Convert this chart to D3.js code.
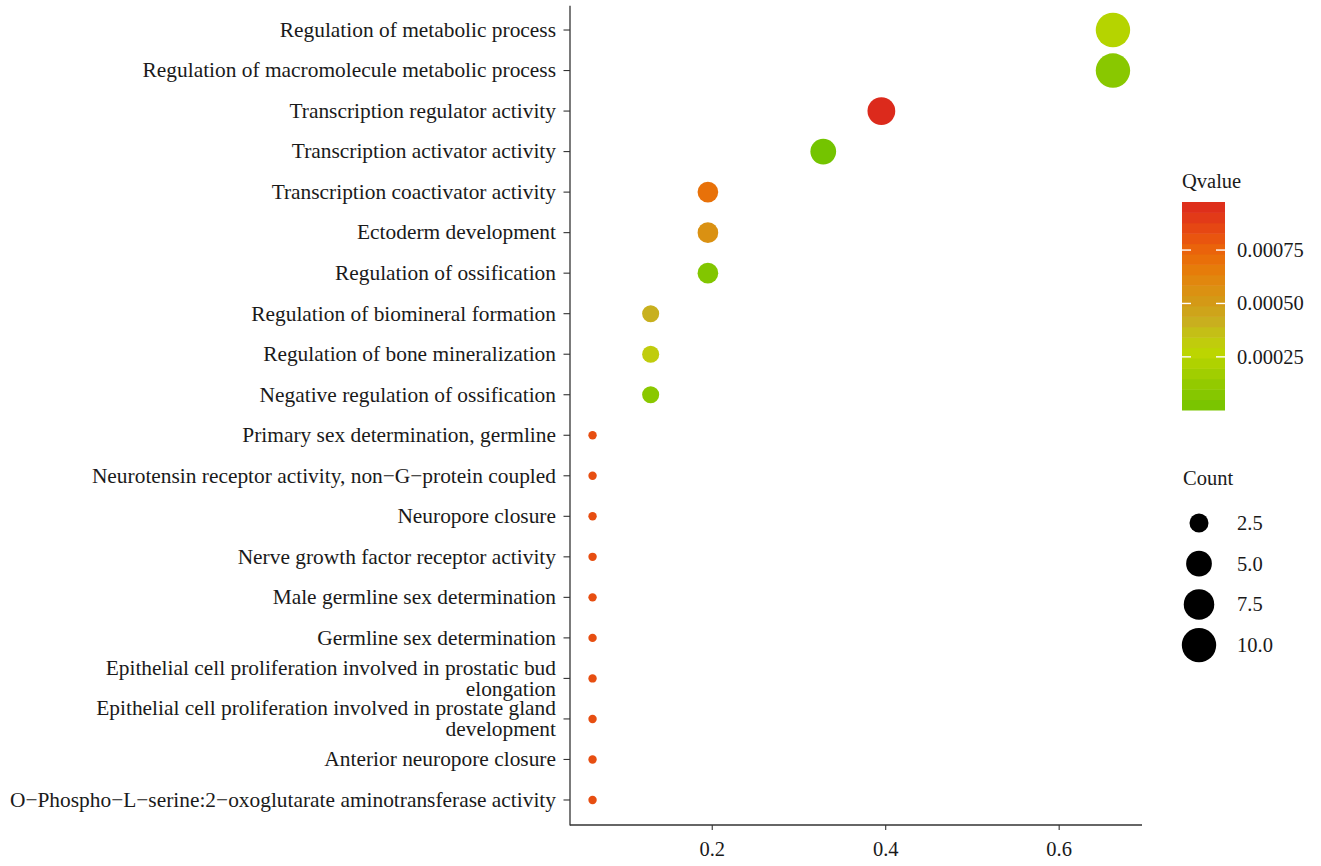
<!DOCTYPE html>
<html>
<head>
<meta charset="utf-8">
<script src="https://cdn.jsdelivr.net/npm/d3@7"></script>
<style>
  html, body { margin: 0; padding: 0; background: #fff; }
  svg { display: block; }
  text { font-family: "Liberation Serif", "Times New Roman", serif; fill: #1a1a1a; }
</style>
</head>
<body>
<svg id="chart" width="1321" height="866"></svg>
<script>
// Enriched terms, top to bottom
const terms = [
  "Regulation of metabolic process",
  "Regulation of macromolecule metabolic process",
  "Transcription regulator activity",
  "Transcription activator activity",
  "Transcription coactivator activity",
  "Ectoderm development",
  "Regulation of ossification",
  "Regulation of biomineral formation",
  "Regulation of bone mineralization",
  "Negative regulation of ossification",
  "Primary sex determination, germline",
  "Neurotensin receptor activity, non\u2212G\u2212protein coupled",
  "Neuropore closure",
  "Nerve growth factor receptor activity",
  "Male germline sex determination",
  "Germline sex determination",
  "Epithelial cell proliferation involved in prostatic bud elongation",
  "Epithelial cell proliferation involved in prostate gland development",
  "Anterior neuropore closure",
  "O\u2212Phospho\u2212L\u2212serine:2\u2212oxoglutarate aminotransferase activity"
];
const geneRatio = [0.662, 0.662, 0.395, 0.328, 0.195, 0.195, 0.195, 0.129, 0.129, 0.129,
                   0.062, 0.062, 0.062, 0.062, 0.062, 0.062, 0.062, 0.062, 0.062, 0.062];
const counts = [10, 10, 6, 5, 3, 3, 3, 2, 2, 2, 1, 1, 1, 1, 1, 1, 1, 1, 1, 1];
const qvalues = [0.00024, 0.000088, 0.000975, 0.0000012, 0.0007, 0.00056, 0.00006, 0.00041, 0.00032, 0.00009,
                 0.00083, 0.00083, 0.00083, 0.00083, 0.00083, 0.00083, 0.00083, 0.00083, 0.00083, 0.00083];

const xTicks = [0.2, 0.4, 0.6];
const qTicks = [0.00025, 0.0005, 0.00075];
const countTicks = [2.5, 5, 7.5, 10];

// Qvalue palette, low (green) to high (red)
const paletteStops = [0, 0.1, 0.2, 0.27, 0.35, 0.42, 0.5, 0.6, 0.7, 0.8, 0.9, 1];
const paletteColors = ["#74c400", "#8cc800", "#a8d000", "#bcd600", "#c2c812", "#c8b01e",
                       "#d09e18", "#de8c10", "#e87608", "#ea5c0c", "#e44016", "#dc2a1c"];

const data = terms.map((t, i) => ({ term: t, ratio: geneRatio[i], count: counts[i], q: qvalues[i] }));

const svg = d3.select("#chart");
svg.append("rect").attr("width", 1321).attr("height", 866).attr("fill", "#fff");

const plot = { left: 570, right: 1142, top: 5.7, bottom: 824.3 };

const x = d3.scaleLinear().domain([0.036, 0.6955]).range([plot.left, plot.right]);
const y = d3.scalePoint().domain(terms).range([plot.top, plot.bottom]).padding(0.6);

const qMin = d3.min(qvalues), qMax = d3.max(qvalues);
const color = d3.scaleLinear()
  .domain(paletteStops.map(t => qMin + t * (qMax - qMin)))
  .range(paletteColors)
  .interpolate(d3.interpolateRgb);

const cMin = d3.min(counts), cMax = d3.max(counts);
const radiusOf = d3.scaleSqrt().domain([0, 1]).range([4.2, 17.2]);
const r = c => radiusOf((c - cMin) / (cMax - cMin));

const axisColor = "#333";
const fontSize = 20.5;
const yLabelSize = 21.4;

// Axes
const xAxisG = svg.append("g").attr("transform", `translate(0,${plot.bottom + 0.7})`);
xAxisG.append("line").attr("x1", plot.left).attr("x2", plot.right)
  .attr("stroke", axisColor).attr("stroke-width", 1.3);
xAxisG.selectAll(".xt").data(xTicks).join("g").attr("class", "xt")
  .attr("transform", d => `translate(${x(d)},0)`)
  .call(g => g.append("line").attr("y2", 5).attr("stroke", axisColor).attr("stroke-width", 1.1))
  .call(g => g.append("text").attr("y", 31).attr("text-anchor", "middle")
    .attr("font-size", fontSize).text(d => d3.format(".1f")(d)));

const yAxisG = svg.append("g").attr("transform", `translate(${plot.left},0)`);
yAxisG.append("line").attr("y1", plot.top).attr("y2", plot.bottom + 1.3)
  .attr("stroke", axisColor).attr("stroke-width", 1.3);

// Wrap long labels on word boundaries
function wrapLabel(s, width) {
  const words = s.split(" ");
  const lines = [];
  let cur = "";
  words.forEach(w => {
    const next = cur ? cur + " " + w : w;
    if (next.length > width && cur) { lines.push(cur); cur = w; }
    else cur = next;
  });
  if (cur) lines.push(cur);
  return lines;
}

const yt = yAxisG.selectAll(".yt").data(terms).join("g").attr("class", "yt")
  .attr("transform", d => `translate(0,${y(d)})`);
yt.append("line").attr("x1", -6.5).attr("x2", 0).attr("stroke", axisColor).attr("stroke-width", 1.1);
yt.each(function(d) {
  const lines = wrapLabel(d, 60);
  const lh = 21;
  const t = d3.select(this).append("text").attr("text-anchor", "end")
    .attr("font-size", yLabelSize).attr("x", -14);
  lines.forEach((ln, i) => {
    t.append("tspan").attr("x", -14)
      .attr("y", (i - (lines.length - 1) / 2) * lh)
      .attr("dy", "0.32em").text(ln);
  });
});

// Points
svg.append("g").selectAll("circle").data(data).join("circle")
  .attr("cx", d => x(d.ratio))
  .attr("cy", d => y(d.term))
  .attr("r", d => r(d.count))
  .attr("fill", d => color(d.q));

// Qvalue legend (binned colour bar)
const bar = { x: 1182, w: 43, top: 202, bottom: 410 };
const qy = d3.scaleLinear().domain([qMin, qMax]).range([bar.bottom, bar.top]);
const nBins = 20;
const bins = d3.range(nBins).map(i => ({
  v0: qMin + (qMax - qMin) * i / nBins,
  v1: qMin + (qMax - qMin) * (i + 1) / nBins
}));
const legQ = svg.append("g");
legQ.append("text").attr("x", 1182).attr("y", 188).attr("font-size", fontSize).text("Qvalue");
legQ.selectAll("rect").data(bins).join("rect")
  .attr("x", bar.x).attr("width", bar.w)
  .attr("y", d => qy(d.v1)).attr("height", d => qy(d.v0) - qy(d.v1) + 0.5)
  .attr("fill", d => color((d.v0 + d.v1) / 2));
const qt = legQ.selectAll(".qt").data(qTicks).join("g").attr("class", "qt")
  .attr("transform", d => `translate(0,${qy(d)})`);
qt.append("line").attr("x1", bar.x).attr("x2", bar.x + 9).attr("stroke", "#fff").attr("stroke-width", 1.4);
qt.append("line").attr("x1", bar.x + bar.w - 9).attr("x2", bar.x + bar.w).attr("stroke", "#fff").attr("stroke-width", 1.4);
qt.append("text").attr("x", 1237).attr("dy", "0.34em").attr("font-size", fontSize)
  .text(d => d3.format(".5f")(d));

// Count legend
const legC = svg.append("g");
legC.append("text").attr("x", 1183).attr("y", 485).attr("font-size", fontSize).text("Count");
const cy0 = 523, cStep = 40.7;
const ci = legC.selectAll(".ci").data(countTicks).join("g").attr("class", "ci")
  .attr("transform", (d, i) => `translate(0,${cy0 + i * cStep})`);
ci.append("circle").attr("cx", 1199).attr("r", d => r(d)).attr("fill", "#000");
ci.append("text").attr("x", 1237).attr("dy", "0.34em").attr("font-size", fontSize)
  .text(d => d3.format(".1f")(d));
</script>
</body>
</html>
